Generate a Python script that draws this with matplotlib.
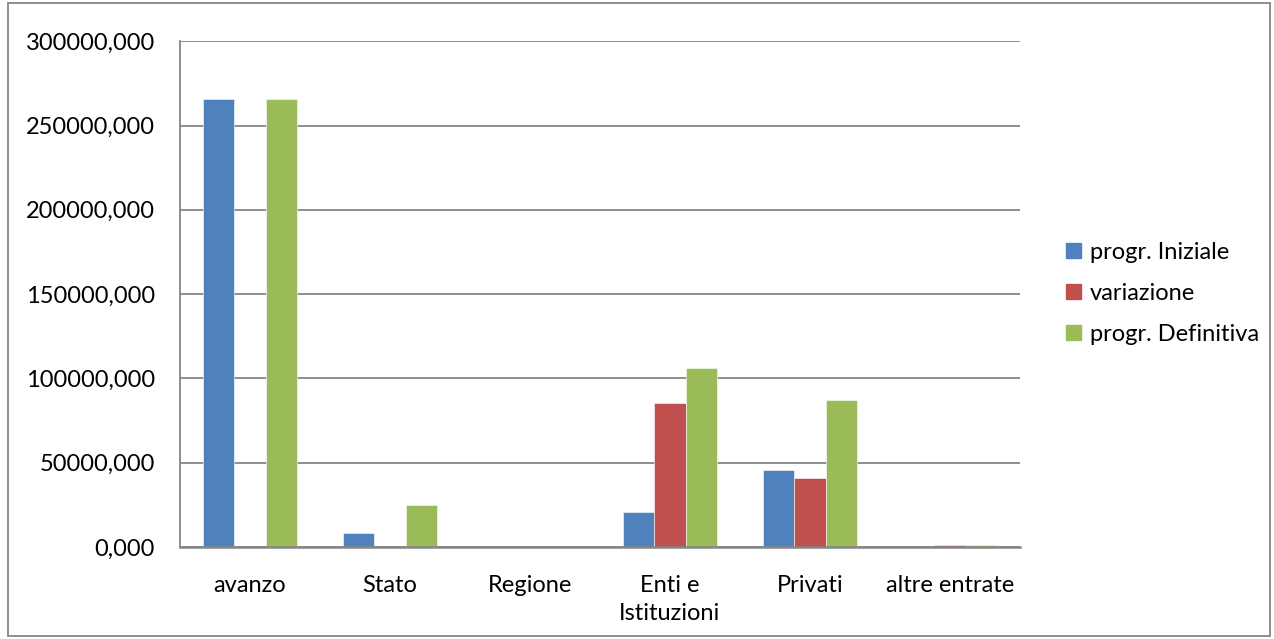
import numpy as np
import matplotlib.pyplot as plt
from matplotlib.patches import Rectangle, Patch

categories = ["avanzo", "Stato", "Regione", "Enti e\nIstituzioni", "Privati", "altre entrate"]
progr_iniziale = [265500, 8500, 0, 21000, 45900, 0]
variazione = [0, 0, 0, 85400, 41200, 900]
progr_definitiva = [265500, 24800, 0, 106400, 87200, 900]
series_names = ["progr. Iniziale", "variazione", "progr. Definitiva"]
colors = ["#4F81BD", "#C0504D", "#9BBB59"]
y_ticks = [0, 50000, 100000, 150000, 200000, 250000, 300000]


def main():
    plt.rcParams['font.family'] = ['Lato', 'DejaVu Sans']
    fs = 17
    fig = plt.figure(figsize=(12.74, 6.39), dpi=100)
    ax = fig.add_axes([0.1413, 0.144, 0.8006 - 0.1413, 0.9355 - 0.144])

    x = np.arange(len(categories))
    w = 0.222
    for i, vals in enumerate([progr_iniziale, variazione, progr_definitiva]):
        ax.bar(x + (i - 1) * w, vals, width=w, color=colors[i], zorder=3,
               edgecolor="white", linewidth=0.4)

    ax.set_xlim(-0.5, len(categories) - 0.5)
    ax.set_ylim(0, 300000)
    ax.set_yticks(y_ticks)
    ax.set_yticklabels([f"{v:.3f}".replace(".", ",") for v in y_ticks], fontsize=fs)
    ax.set_xticks(x)
    ax.set_xticklabels(categories, fontsize=fs, linespacing=1.45)
    ax.tick_params(axis='y', length=0, pad=18)
    ax.tick_params(axis='x', length=0, pad=20)
    ax.grid(axis='y', color="#868686", linewidth=1.3, zorder=0)
    for s in ["top", "right"]:
        ax.spines[s].set_visible(False)
    ax.spines["left"].set_color("#868686")
    ax.spines["left"].set_linewidth(1.3)
    ax.spines["bottom"].set_color("#868686")
    ax.spines["bottom"].set_linewidth(1.8)
    ax.spines["bottom"].set_zorder(4)

    handles = [Patch(color=c) for c in colors]
    fig.legend(handles, series_names, loc="center left", bbox_to_anchor=(0.820, 0.541),
               frameon=False, fontsize=fs, handlelength=0.65, handleheight=0.65,
               handletextpad=0.35, labelspacing=0.85)

    fig.patches.append(Rectangle((0.006, 0.004), 0.991, 0.992, transform=fig.transFigure,
                                 fill=False, edgecolor="#868686", linewidth=1.3))
    fig.savefig("out.png", dpi=100)


if __name__ == "__main__":
    main()
